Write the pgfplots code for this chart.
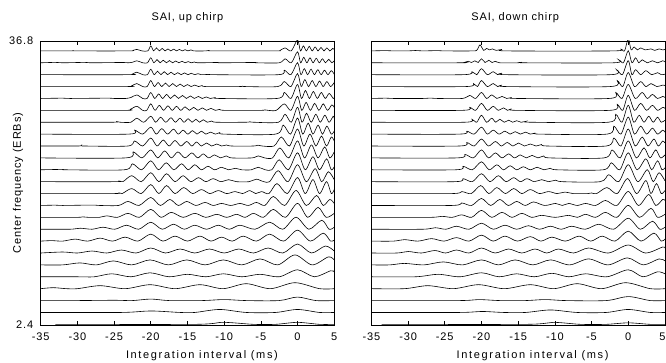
\documentclass[border=0pt]{standalone}
\usepackage{pgfplots}
\pgfplotsset{compat=1.18}
\usepackage{fontspec}
\setmainfont{Liberation Sans}[LetterSpace=8]
\newfontfamily\widefont{Liberation Sans}[LetterSpace=15]
\pgfplotsset{
  sai/.style={black, line width=0.6pt, smooth, tension=0.5, mark=none},
  saiaxis/.style={
    scale only axis, width=293.5pt, height=284pt,
    xmin=-35, xmax=5, ymin=2.4, ymax=36.8,
    xtick={-35,-30,-25,-20,-15,-10,-5,0,5},
    ytick={2.4,36.8},
    tick align=inside, major tick length=4pt,
    ytick style={draw=none},
    axis line style={line width=0.6pt},
    every tick/.style={black, line width=0.6pt},
    tick label style={font=\fontsize{11}{13}\selectfont},
    xticklabel style={anchor=base, yshift=-15pt},
    label style={font=\fontsize{11}{13}\selectfont},
    xlabel style={font=\fontsize{11}{13}\widefont, at={(0.5,0)}, anchor=base, yshift=-33.5pt, xshift=14.5pt},
    title style={font=\fontsize{11}{13}\selectfont, at={(0.5,1)}, anchor=base, yshift=14pt},
  }
}
\newcommand{\tr}[2]{\addplot[sai, y filter/.expression={#1+0.121*y}] coordinates {#2};}
\begin{document}
\begin{tikzpicture}
\useasboundingbox (-40.7pt,-37pt) rectangle (625.3pt,325pt);
% ---------------- left: up chirp ----------------
\begin{axis}[saiaxis, title={SAI, up chirp}, xlabel={Integration interval (ms)},
  ylabel={Center frequency (ERBs)}, yticklabels={2.4,36.8},
  xticklabels={-35,-30,-25,-20,-15,-10,-5,0,5},
  yticklabel style={xshift=-4pt},
  ylabel style={at={(axis description cs:-0.0773,0.5)}, anchor=center}]
\tr{35.60}{(-35,0)(-31,0)(-30.5,0.4)(-30,0)(-23,0)(-22.4,0.6)(-21.9,1.5)(-21.2,0)(-20.4,0)(-20,5)(-19.61,0)(-19.22,3)(-18.83,0)(-18.44,2.5)(-18.05,0)(-17.66,2)(-17.27,0)(-16.88,1.8)(-16.49,0)(-16.1,1.5)(-15.71,0)(-15.32,1.2)(-14.93,0)(-14.54,1)(-14.15,0)(-12.5,0)(-12,0.5)(-11.5,0)(-3,0)(-2.4,0.4)(-1.7,3)(-0.85,0)(0,11)(0.4,0)(0.8,5)(1.2,0)(1.6,4.5)(2.0,0)(2.4,4)(2.8,0)(3.2,3.5)(3.6,0)(4.0,3)(4.4,0)(4.8,2.5)(5,1.5)}
\tr{34.16}{(-35,0)(-33,0.4)(-32,0)(-29,0.4)(-28,0)(-24,0.3)(-23,0)(-22.5,0.5)(-21.9,2)(-21.1,0)(-20.45,0)(-20,5)(-19.57,0)(-19.15,3.2)(-18.72,0)(-18.3,2.6)(-17.87,0)(-17.45,2.2)(-17.02,0)(-16.6,1.8)(-16.17,0)(-15.75,1.5)(-15.32,0)(-14.9,1.2)(-14.47,0)(-14.05,0.8)(-13.6,0)(-11,0.3)(-10.5,0)(-6,0.3)(-5.5,0)(-2.5,0)(-1.7,4)(-0.85,0)(0,11)(0.42,0)(0.85,5.5)(1.27,0)(1.7,5)(2.12,0)(2.55,4.5)(2.97,0)(3.4,4)(3.82,0)(4.25,3.5)(4.67,0)(5,2)}
\tr{32.72}{(-35,0)(-23,0)(-22.5,0.6)(-21.9,2.5)(-21.1,0)(-20.46,0)(-20,5.5)(-19.54,0)(-19.08,3.5)(-18.62,0)(-18.16,3)(-17.7,0)(-17.24,2.5)(-16.78,0)(-16.32,2)(-15.86,0)(-15.4,1.8)(-14.94,0)(-14.48,1.4)(-14.02,0)(-13.56,1)(-13.1,0)(-12,0.3)(-11.4,0)(-2.6,0)(-1.8,4.5)(-0.9,0)(0,12)(0.46,0)(0.92,6)(1.38,0)(1.84,5.5)(2.3,0)(2.76,5)(3.22,0)(3.68,4.5)(4.14,0)(4.6,4)(5,0.5)}
\tr{31.28}{(-35,0)(-23.3,0)(-22.6,0.8)(-21.9,3)(-21.1,0)(-20.5,0)(-20,6)(-19.5,0)(-19,4)(-18.5,0)(-18,3.5)(-17.5,0)(-17,3)(-16.5,0)(-16,2.5)(-15.5,0)(-15,2)(-14.5,0)(-14,1.5)(-13.5,0)(-13,1)(-12.5,0)(-8,0)(-7.5,0.4)(-7,0)(-2.7,0)(-1.8,5)(-0.9,0)(0,13)(0.5,0)(1,7)(1.5,0)(2,6)(2.5,0)(3,5.5)(3.5,0)(4,5)(4.5,0)(5,4)}
\tr{29.84}{(-35,0)(-32,0.3)(-31,0)(-26,0.3)(-25,0)(-23.4,0)(-22.7,1)(-21.9,3.5)(-21.1,0)(-20.5,0)(-20,6)(-19.46,0)(-18.92,4.5)(-18.38,0)(-17.84,4)(-17.3,0)(-16.76,3.5)(-16.22,0)(-15.68,3)(-15.14,0)(-14.6,2.5)(-14.06,0)(-13.52,2)(-12.98,0)(-12.44,1.5)(-11.9,0)(-11.3,0.8)(-10.7,0)(-2.8,0)(-1.8,6)(-0.9,0)(0,14)(0.54,0)(1.08,8)(1.62,0)(2.16,7)(2.7,0)(3.24,6)(3.78,0)(4.32,5)(4.86,0)(5,0.5)}
\tr{28.40}{(-35,0)(-23.5,0)(-22.8,1)(-21.9,4)(-21.1,0)(-20.55,0)(-20,6.5)(-19.42,0)(-18.83,5)(-18.25,0)(-17.66,4.5)(-17.08,0)(-16.49,4)(-15.91,0)(-15.32,3.5)(-14.74,0)(-14.15,3)(-13.57,0)(-12.98,2.5)(-12.4,0)(-11.81,2)(-11.2,0)(-10.6,1)(-10,0)(-5,0)(-4.5,0.5)(-4,0)(-2.9,0)(-1.8,6.5)(-0.9,0)(0,14)(0.58,0)(1.17,8)(1.75,0)(2.34,7)(2.92,0)(3.51,6.5)(4.09,0)(4.68,5.5)(5,3)}
\tr{26.96}{(-35,0)(-25.2,0)(-24.7,0.8)(-24.2,0)(-22.7,0)(-21.9,4)(-20.95,0)(-20,6)(-19.33,0)(-18.66,5)(-17.95,0)(-17.25,4.5)(-16.64,0)(-16.03,4)(-15.47,0)(-14.9,3.5)(-14.37,0)(-13.85,3)(-13.35,0)(-12.85,2.5)(-12.3,0)(-11.7,1.2)(-11.1,0)(-7,0)(-6.5,0.5)(-6,0)(-2.6,0)(-1.7,8)(-0.85,0)(0,15)(0.62,0)(1.23,9)(1.86,0)(2.5,8)(3.1,0)(3.73,7)(4.3,0)(4.86,6)(5,4)}
\tr{25.52}{(-35,0)(-23,0)(-22.2,4)(-21.1,0)(-20,7)(-19.25,0)(-18.5,5.5)(-17.7,0)(-16.9,5)(-16.25,0)(-15.6,4)(-14.95,0)(-14.3,3.5)(-13.7,0)(-13.1,3)(-12.5,0)(-11.85,2)(-11.2,0)(-10.6,1.5)(-10,0)(-3,0)(-1.95,9)(-0.95,0)(0,16)(0.72,0)(1.45,11)(2.1,0)(2.8,9)(3.4,0)(4.0,8)(4.6,0)(5,3)}
\tr{24.08}{(-35,0)(-30,0)(-29.5,0.4)(-29,0)(-23.1,0)(-22.2,5)(-21.1,0)(-20,8)(-19.15,0)(-18.3,6)(-17.5,0)(-16.7,5.5)(-15.9,0)(-15.1,4.5)(-14.4,0)(-13.76,4)(-13.1,0)(-12.4,3)(-11.7,0)(-11,2)(-10.35,0)(-9.7,1)(-9,0)(-6,0)(-5.4,0.8)(-4.8,0)(-3.2,0)(-2.2,9)(-1.1,0)(0,17)(0.85,0)(1.7,12)(2.5,0)(3.27,10)(3.95,0)(4.6,9)(5,5)}
\tr{22.64}{(-35,0)(-23.4,0)(-22.4,6)(-21.2,0)(-20,8)(-19.05,0)(-18.1,7)(-17.2,0)(-16.3,6)(-15.35,0)(-14.4,5)(-13.6,0)(-12.85,4)(-12.1,0)(-11.3,3)(-10.5,0)(-9.7,2)(-9,0)(-6.2,0)(-5.35,2)(-4.5,0)(-3.4,0)(-2.4,10)(-1.2,0)(0,17)(0.95,0)(1.9,13)(2.8,0)(3.7,11)(4.4,0)(5,6)}
\tr{21.20}{(-35,0)(-32,0.4)(-31.5,0)(-23.6,0)(-22.5,6)(-21.25,0)(-20,9)(-18.95,0)(-17.9,7)(-16.85,0)(-15.8,6)(-14.9,0)(-14,5)(-13.1,0)(-12.2,3.5)(-11.3,0)(-10.35,2.5)(-9.4,0)(-8.5,1.5)(-7.6,0)(-6.3,0)(-5.35,2.5)(-4.4,0)(-3.5,0)(-2.5,10)(-1.25,0)(0,17)(1.05,0)(2.1,13)(3.0,0)(3.96,11)(4.6,0)(5,3)}
\tr{19.76}{(-35,0)(-24.9,0)(-24.4,0.8)(-23.8,0)(-22.6,6)(-21.3,0)(-20,9)(-18.9,0)(-17.85,8)(-16.7,0)(-15.6,6)(-14.55,0)(-13.5,4)(-12.5,0)(-11.5,3)(-10.45,0)(-9.4,2)(-8.3,0)(-6.6,0)(-5.6,2.5)(-4.6,0)(-3.8,0)(-2.65,11)(-1.3,0)(0,17)(1.2,0)(2.4,13)(3.3,0)(4.2,10)(5,2)}
\tr{18.32}{(-35,0)(-25,0)(-24.4,0.8)(-23.9,0)(-22.6,5)(-21.3,0)(-20,9)(-18.9,0)(-17.85,8)(-16.7,0)(-15.5,6)(-14.3,0)(-13.1,4)(-11.95,0)(-10.8,3)(-9.65,0)(-8.5,2)(-7.5,0)(-6.5,3)(-5.7,0)(-4.9,2)(-3.9,0)(-2.8,10)(-1.4,0)(0,16)(1.05,0)(2.1,14)(3.0,0)(3.96,12)(4.6,0)(5,4)}
\tr{16.88}{(-35,0)(-33,0.3)(-32,0)(-28,0.4)(-27,0)(-24.4,0)(-23.1,4)(-21.6,0)(-20,8)(-18.7,0)(-17.4,6)(-16.25,0)(-15.1,4)(-13.85,0)(-12.6,3)(-11.5,0)(-10.35,2)(-9.1,0)(-7.85,2)(-6.7,0)(-5.6,3)(-4.45,0)(-3.3,9)(-1.75,0)(-0.2,15)(1.2,0)(2.6,10)(3.5,0)(4.4,6)(5,2)}
\tr{15.44}{(-35,0)(-30,0)(-29.3,0.5)(-28.5,0)(-27,0)(-26,1.5)(-24.55,0)(-23.1,4)(-21.55,0)(-20,8)(-18.6,0)(-17.2,5)(-15.6,0)(-14,4)(-12.5,0)(-11,3)(-9.65,0)(-8.3,3)(-7.15,0)(-6,4)(-4.65,0)(-3.3,8)(-1.65,0)(0,14)(1.4,0)(2.8,10)(3.9,0)(5,4)}
\tr{14.00}{(-35,0)(-31,0)(-29.6,1)(-28,0)(-26.5,2)(-24.9,0)(-23.3,4)(-21.65,0)(-20,7)(-18.45,0)(-16.9,5)(-15.45,0)(-14,4)(-12.4,0)(-10.8,4)(-9.3,0)(-7.85,4)(-5.8,0)(-3.8,7)(-2,0)(-0.2,12)(1.55,0)(3.3,9)(4.3,0)(5,2)}
\tr{12.56}{(-35,0)(-33.5,0.5)(-32,0)(-30.3,2)(-28.6,0)(-26.9,3)(-25.2,0)(-23.5,4)(-21.75,0)(-20,7)(-18.35,0)(-16.7,5)(-15,0)(-13.3,5)(-11.8,0)(-10.35,4)(-8.9,0)(-7.4,5)(-5.6,0)(-3.8,7)(-1.9,0)(0,11)(1.75,0)(3.5,8)(4.5,0)(5,1)}
\tr{11.12}{(-35,0)(-32,1)(-30,0)(-28,2)(-26,0)(-24,3)(-22,0)(-20,5)(-18,0)(-16,4)(-14,0)(-12,4)(-10,0)(-8,4)(-6,0)(-4,5)(-2,0)(0,9)(1.9,0)(3.8,7)(5,2)}
\tr{9.68}{(-35,0)(-32,0)(-29.65,2)(-27.4,0)(-25.1,4)(-22.6,0)(-20.1,5)(-17.6,0)(-15.1,5)(-12.6,0)(-10.1,5)(-7.6,0)(-5.1,6)(-2.7,0)(-0.35,10)(2,0)(4.2,8)(5,5)}
\tr{8.24}{(-35,0)(-30,0)(-27.7,0)(-25.3,3)(-22.7,0)(-20.1,4)(-17.5,0)(-15,2.5)(-12.5,0)(-10.1,3)(-7.6,0)(-5.1,2.5)(-2.5,0)(0,7)(2.3,0)(4.5,6)(5,5)}
\tr{6.80}{(-35,0)(-33.3,1)(-31.5,0)(-30,0)(-26.9,3)(-23.5,0)(-20.1,4)(-16.7,0)(-13.3,4)(-10.15,0)(-7,5)(-3.7,0)(-0.35,6)(3,0)(5,0)}
\tr{5.36}{(-35,0)(-30,0)(-25,0.3)(-22.5,0)(-20,1.5)(-17.5,0)(-13,0)(-10,1)(-7,0)(-2.5,0)(0,3.5)(2.5,0)(5,0)}
\tr{3.92}{(-35,0)(-24,0)(-20,1.5)(-16,0)(-14,0)(-10.6,3)(-7,0)(-3,0)(0,3)(3,0)(5,0)}
\tr{2.48}{(-33,0)(-14,0)(-10.1,2)(-6,0)(-3,0)(0,2)(3,0)(5,0)}
\end{axis}
% ---------------- right: down chirp ----------------
\begin{axis}[saiaxis, at={(330.7pt,0pt)}, anchor=south west,
  title={SAI, down chirp}, title style={xshift=-3pt}, xlabel={Integration interval (ms)},
  xticklabels={-35,-30,-25,-20,-15,-10,-5,0,{\hspace*{-5pt}5}},
  yticklabels={}]
\tr{35.60}{(-35,0)(-33,0.3)(-32,0)(-30,0)(-29,0.4)(-28,0)(-26,0.3)(-25,0)(-21.2,0)(-20.6,1)(-20.2,6)(-19.7,0.5)(-19.3,2.5)(-18.9,1)(-18.5,2)(-18,0.5)(-17.2,1.5)(-16.6,0)(-2,0)(-1.05,2)(-0.5,0)(0,12)(0.4,1)(0.8,4)(1.25,1)(1.7,3)(2.3,1)(3.1,2)(3.6,0.5)(4.2,2)(4.7,1)(5,1.5)}
\tr{34.16}{(-35,0)(-23,0)(-22.3,0.5)(-21.8,1.5)(-21.35,0.3)(-20.9,2)(-20.45,0.3)(-20,4)(-19.5,0.3)(-19,2.5)(-18.55,0.3)(-18.1,1.5)(-17.5,0)(-15,0)(-14.5,0.5)(-14,0)(-2,0)(-1.3,3)(-0.65,0)(0,12)(0.5,0)(1,5)(1.45,0)(1.9,3)(2.6,0)(3.3,2)(4,0)(4.7,2)(5,1)}
\tr{32.72}{(-35,0)(-22.5,0)(-21.3,3)(-20.65,0)(-20,6)(-19.2,0)(-18.4,3)(-17.8,0)(-17.2,1.5)(-16.6,0)(-2.4,0)(-1.6,5)(-0.8,0)(0,14)(0.5,0)(1,5)(1.7,0)(2.4,4)(3.2,0)(4,2)(4.5,0)(5,0.5)}
\tr{31.28}{(-35,0)(-22.2,0)(-21.1,3)(-20.55,0)(-20,6)(-19.2,0)(-18.4,3)(-17.8,0)(-17.2,1.5)(-16.5,0)(-2.5,0)(-1.5,6)(-0.75,0)(0,14)(0.85,0)(1.7,5)(2.4,0)(3.1,3)(3.9,0)(4.7,1.5)(5,1)}
\tr{29.84}{(-35,0)(-33,0.3)(-32,0)(-28,0)(-27,0.4)(-26,0)(-22.6,0)(-21.6,3)(-20.8,0)(-20,6)(-19.3,0)(-18.6,3.5)(-17.9,0)(-17.2,2)(-16.55,0)(-15.9,1)(-15.2,0)(-2.6,0)(-1.7,6)(-0.85,0)(0,14)(0.95,0)(1.9,6)(2.6,0)(3.3,4)(4,0)(4.7,2)(5,1)}
\tr{28.40}{(-35,0)(-22.6,0)(-21.6,3)(-20.8,0)(-20,7)(-19.2,0)(-18.4,4)(-17.7,0)(-17,2.5)(-16.45,0)(-15.9,1.5)(-15.2,0)(-2.5,0)(-1.5,6)(-0.75,0)(0,15)(0.85,0)(1.7,7)(2.5,0)(3.3,5)(4,0)(4.7,3)(5,2)}
\tr{26.96}{(-35,0)(-22.3,0)(-21.3,3)(-20.65,0)(-20,7)(-19.3,0)(-18.6,4)(-18.05,0)(-17.5,3)(-16.9,0)(-16.3,2)(-15.75,0)(-15.2,1.5)(-14.6,0)(-14,0.8)(-13.3,0)(-2.7,0)(-1.7,8)(-0.85,0)(0,17)(0.75,0)(1.5,7)(2.15,0)(2.8,6)(3.4,0)(4,5)(4.5,0)(5,2)}
\tr{25.52}{(-35,0)(-23,0)(-22,3)(-21,0)(-20,7)(-19.2,0)(-18.4,4)(-17.6,0)(-16.8,3)(-16.1,0)(-15.4,2.5)(-14.7,0)(-14,2)(-13.35,0)(-12.7,1)(-12,0)(-2.9,0)(-1.95,8)(-1,0)(0,17)(0.85,0)(1.7,8)(2.5,0)(3.3,6)(4,0)(4.7,4)(5,2)}
\tr{24.08}{(-35,0)(-23,0)(-22,3.5)(-21,0)(-20,7)(-19.05,0)(-18.1,4.5)(-17.3,0)(-16.5,3.5)(-15.7,0)(-14.95,3)(-14.15,0)(-13.35,2)(-12.55,0)(-11.8,1.5)(-11,0)(-3,0)(-1.95,8)(-1,0)(0,17)(0.95,0)(1.9,9)(2.7,0)(3.5,7)(4.1,0)(4.7,5)(5,3)}
\tr{22.64}{(-35,0)(-23.3,0)(-22.25,3.5)(-21.1,0)(-20,8)(-19.05,0)(-18.1,5)(-17.2,0)(-16.3,4)(-15.5,0)(-14.7,3)(-13.9,0)(-13.1,2.5)(-12.3,0)(-11.5,2)(-10.7,0)(-3.3,0)(-2.2,8)(-1.1,0)(0,17)(1.1,0)(2.15,10)(2.95,0)(3.75,8)(4.4,0)(5,3)}
\tr{21.20}{(-35,0)(-23.5,0)(-22.5,3.5)(-21.25,0)(-20,8)(-18.95,0)(-17.9,5)(-17,0)(-16.1,4)(-15.2,0)(-14.3,3)(-13.35,0)(-12.4,2.5)(-11.5,0)(-10.6,1.5)(-9.7,0)(-3.4,0)(-2.3,7)(-1.15,0)(0,17)(1.2,0)(2.4,11)(3.2,0)(4,9)(4.6,0)(5,2)}
\tr{19.76}{(-35,0)(-23.6,0)(-22.5,3)(-21.25,0)(-20,8)(-18.85,0)(-17.7,6)(-16.65,0)(-15.6,4)(-14.7,0)(-13.8,3)(-12.8,0)(-11.8,2)(-10.85,0)(-9.9,1.5)(-9,0)(-3.8,0)(-2.65,7)(-1.3,0)(0,17)(1.3,0)(2.6,12)(3.4,0)(4.2,9)(5,1)}
\tr{18.32}{(-35,0)(-24,0)(-22.7,2)(-21.4,0)(-20.1,8)(-19,0)(-17.9,6)(-16.75,0)(-15.6,5)(-14.5,0)(-13.35,4)(-12.1,0)(-10.85,2)(-9.7,0)(-8.6,1.5)(-7.5,0)(-5.5,0)(-5,0.6)(-4.3,0)(-2.9,6)(-1.5,0)(-0.1,15)(1.15,0)(2.4,13)(3.1,0)(3.85,10)(4.5,0)(5,3)}
\tr{16.88}{(-35,0)(-24,0)(-22.7,2.5)(-21.35,0)(-20,7)(-18.75,0)(-17.5,6)(-16.35,0)(-15.2,4)(-14.05,0)(-12.9,3.5)(-11.4,0)(-9.9,2)(-9,0)(-8.1,2)(-6.95,0)(-5.8,2)(-4.45,0)(-3.1,5)(-1.55,0)(0,14)(1.4,0)(2.8,11)(3.75,0)(4.7,6)(5,5)}
\tr{15.44}{(-35,0)(-27,0)(-25.4,1)(-24,0)(-22.7,2.5)(-21.35,0)(-20,7)(-18.6,0)(-17.2,5)(-15.85,0)(-14.5,4)(-13.15,0)(-11.8,2)(-9.95,0)(-8.1,2)(-6.95,0)(-5.8,3)(-4.45,0)(-3.1,5)(-1.55,0)(0,12)(1.55,0)(3.1,9)(4,0)(5,3)}
\tr{14.00}{(-35,0)(-28,0)(-26.3,1.5)(-24.85,0)(-23.4,3)(-21.7,0)(-20,6)(-18.4,0)(-16.8,4)(-15.2,0)(-13.6,3.5)(-12.1,0)(-10.6,3)(-9.15,0)(-7.7,3)(-5.85,0)(-4,5)(-2,0)(0,11)(1.65,0)(3.3,8)(4.3,0)(5,2)}
\tr{12.56}{(-35,0)(-32,0)(-30.5,1.5)(-28.65,0)(-26.8,2.5)(-25.1,0)(-23.4,3.5)(-21.7,0)(-20,6)(-18.4,0)(-16.8,5)(-15.1,0)(-13.35,4.5)(-11.9,0)(-10.4,4)(-8.55,0)(-6.7,5)(-5.1,0)(-3.55,5)(-1.8,0)(0,10)(1.75,0)(3.5,8)(4.5,0)(5,2)}
\tr{11.12}{(-35,0)(-31.5,0)(-30,1.5)(-28.2,0)(-26.35,2.5)(-24.9,0)(-23.4,3)(-21.7,0)(-20,5)(-18.15,0)(-16.3,4)(-14.5,0)(-12.7,4)(-11.1,0)(-9.5,4)(-7.45,0)(-5.4,5)(-2.7,0)(0,8)(2.35,0)(4.7,6)(5,5)}
\tr{9.68}{(-35,0)(-32.5,0)(-30.5,1.5)(-27.85,0)(-25.2,3)(-22.6,0)(-20,5)(-17.7,0)(-15.4,5)(-13,0)(-10.6,5)(-8,0)(-5.4,6)(-2.75,0)(-0.1,7)(2.05,0)(4.2,6)(5,4)}
\tr{8.24}{(-35,0)(-29,0)(-25.9,2.5)(-22.95,0)(-20,4)(-17.6,0)(-15.2,3)(-12.8,0)(-10.4,3.5)(-8.1,0)(-5.8,3)(-2.9,0)(0,7)(2,0)(4,5)(5,3)}
\tr{6.80}{(-35,0)(-30.5,0)(-27.3,3)(-23.85,0)(-20.4,4)(-16.9,0)(-13.35,4)(-10.15,0)(-6.97,5)(-3.65,0)(-0.35,6)(3,0)(5,0)}
\tr{5.36}{(-35,0)(-23,0)(-20.4,1)(-17.5,0)(-14,0)(-11.3,1)(-8.5,0)(-3,0)(0,4)(3,0)(5,0)}
\tr{3.92}{(-35,0)(-23,0)(-20,1)(-17,0)(-14,0)(-10.6,2.5)(-7,0)(-3,0)(0,3)(3,0)(5,0)}
\tr{2.48}{(-33.6,0)(-14,0)(-10.2,2)(-6.5,0)(-3,0)(0,1.5)(3,0)(5,0)}
\end{axis}
\end{tikzpicture}
\end{document}
